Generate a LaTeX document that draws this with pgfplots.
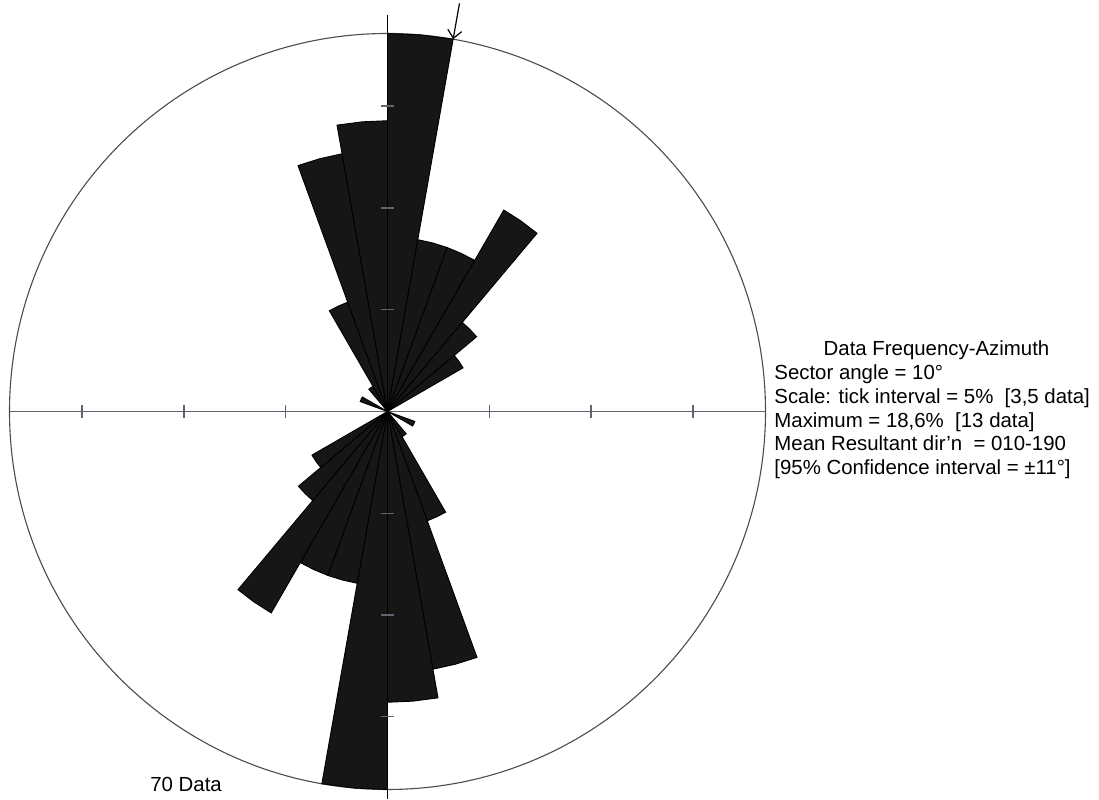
\documentclass[border=0pt]{standalone}
\usepackage{fontspec}
\setmainfont{Liberation Sans}
\usepackage{pgfplots}
\pgfplotsset{compat=1.18}
\usetikzlibrary{arrows.meta}
\definecolor{axgray}{RGB}{100,100,112}
\definecolor{barfill}{RGB}{22,22,22}
\begin{document}
\begin{tikzpicture}
\begin{axis}[scale only axis, width=549.5pt, height=399.5pt,
  xmin=-13.327, xmax=24.470, ymin=-13.327, ymax=14.152,
  hide axis, clip=false]
\path (rel axis cs:0,0) rectangle (rel axis cs:1,1);
% outer circle (13 data = 18.6%)
\draw[line width=0.55pt, black!70] (axis cs:0,0) circle[radius=189pt];
% horizontal axis with 5% ticks (3.5 data)
\draw[line width=0.7pt, axgray] (axis cs:-13,0) -- (axis cs:13,0);
\pgfplotsinvokeforeach{-10.5,-7,-3.5,3.5,7,10.5}{
  \draw[line width=0.7pt, axgray] (axis cs:#1,-0.22) -- (axis cs:#1,0.22);
}
% sectors: azimuth -> math angle (90 - az), radius = count
\pgfplotsset{sector/.style={fill=barfill, draw=black, line width=0.45pt, data cs=polar}}
\addplot[sector] coordinates {(0,0) (90,13) (85,13) (80,13)} -- cycle;   % 000-010
\addplot[sector] coordinates {(0,0) (80,6) (75,6) (70,6)} -- cycle;      % 010-020
\addplot[sector] coordinates {(0,0) (70,6) (65,6) (60,6)} -- cycle;      % 020-030
\addplot[sector] coordinates {(0,0) (60,8) (55,8) (50,8)} -- cycle;      % 030-040
\addplot[sector] coordinates {(0,0) (50,4) (45,4) (40,4)} -- cycle;      % 040-050
\addplot[sector] coordinates {(0,0) (40,3) (35,3) (30,3)} -- cycle;      % 050-060
\addplot[sector] coordinates {(0,0) (-20,1) (-25,1) (-30,1)} -- cycle;   % 110-120
\addplot[sector] coordinates {(0,0) (-50,1) (-55,1) (-60,1)} -- cycle;   % 140-150
\addplot[sector] coordinates {(0,0) (-60,4) (-65,4) (-70,4)} -- cycle;   % 150-160
\addplot[sector] coordinates {(0,0) (-70,9) (-75,9) (-80,9)} -- cycle;   % 160-170
\addplot[sector] coordinates {(0,0) (-80,10) (-85,10) (-90,10)} -- cycle;% 170-180
\addplot[sector] coordinates {(0,0) (-90,13) (-95,13) (-100,13)} -- cycle;% 180-190
\addplot[sector] coordinates {(0,0) (-100,6) (-105,6) (-110,6)} -- cycle;% 190-200
\addplot[sector] coordinates {(0,0) (-110,6) (-115,6) (-120,6)} -- cycle;% 200-210
\addplot[sector] coordinates {(0,0) (-120,8) (-125,8) (-130,8)} -- cycle;% 210-220
\addplot[sector] coordinates {(0,0) (-130,4) (-135,4) (-140,4)} -- cycle;% 220-230
\addplot[sector] coordinates {(0,0) (-140,3) (-145,3) (-150,3)} -- cycle;% 230-240
\addplot[sector] coordinates {(0,0) (160,1) (155,1) (150,1)} -- cycle;   % 290-300
\addplot[sector] coordinates {(0,0) (130,1) (125,1) (120,1)} -- cycle;   % 320-330
\addplot[sector] coordinates {(0,0) (120,4) (115,4) (110,4)} -- cycle;   % 330-340
\addplot[sector] coordinates {(0,0) (110,9) (105,9) (100,9)} -- cycle;   % 340-350
\addplot[sector] coordinates {(0,0) (100,10) (95,10) (90,10)} -- cycle;  % 350-360
% vertical (north) axis with ticks
\draw[line width=0.75pt, black] (axis cs:0,13.65) -- (axis cs:0,-13.327);
\pgfplotsinvokeforeach{-10.5,-7,-3.5,3.5,7,10.5}{
  \draw[line width=0.7pt, axgray] (axis cs:-0.22,#1) -- (axis cs:0.22,#1);
}
% mean resultant direction arrow (010)
\addplot[-{Straight Barb[length=4pt,width=7pt]}, line width=0.6pt, black, data cs=polar] coordinates {(80,14.25) (80,13)};
% text
\node[anchor=base, inner sep=0pt, font=\fontsize{10.2pt}{12pt}\selectfont] at (axis cs:18.881,1.909) {Data Frequency-Azimuth};
\node[anchor=base west, inner sep=0pt, font=\fontsize{10.2pt}{12pt}\selectfont] at (axis cs:13.293,1.083) {Sector angle = 10°};
\node[anchor=base west, inner sep=0pt, font=\fontsize{10.2pt}{12pt}\selectfont] at (axis cs:13.293,0.275) {Scale: tick interval = 5\%\ \ [3,5 data]};
\node[anchor=base west, inner sep=0pt, font=\fontsize{10.2pt}{12pt}\selectfont] at (axis cs:13.293,-0.550) {Maximum = 18,6\%\ \ [13 data]};
\node[anchor=base west, inner sep=0pt, font=\fontsize{10.2pt}{12pt}\selectfont] at (axis cs:13.293,-1.358) {Mean Resultant dir'n\ \ = 010-190};
\node[anchor=base west, inner sep=0pt, font=\fontsize{10.2pt}{12pt}\selectfont] at (axis cs:13.293,-2.167) {[95\% Confidence interval = ±11°]};
\node[anchor=base west, inner sep=0pt, font=\fontsize{10.2pt}{12pt}\selectfont] at (axis cs:-8.168,-13.086) {70 Data};
\end{axis}
\end{tikzpicture}
\end{document}
